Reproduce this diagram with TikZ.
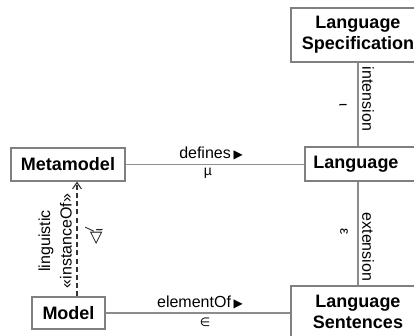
\documentclass[tikz,border=0pt]{standalone}
\usepackage{fontspec}
\setmainfont{Liberation Sans}
\newfontfamily\symfont{DejaVu Sans}
\usetikzlibrary{arrows.meta}
\definecolor{boxgray}{gray}{0.5}
\definecolor{linegray}{gray}{0.55}
\definecolor{dashgray}{gray}{0.2}
\newcommand{\rtri}{{\symfont\fontsize{6}{6}\selectfont ▶}}
\begin{document}
\begin{tikzpicture}[x=0.5pt,y=-0.5pt,
  box/.style={draw=boxgray, line width=0.55pt, fill=white, inner sep=0pt,
    font=\fontsize{9}{10.6}\selectfont\bfseries, align=center},
  boxfont/.style={font=\fontsize{9}{10.6}\selectfont\bfseries, inner sep=0pt},
  link/.style={draw=linegray, line width=0.6pt},
  inst/.style={draw=dashgray, line width=0.55pt, dash pattern=on 2.5pt off 1.6pt,
    -{Straight Barb[length=3.2pt,width=4.4pt,line width=0.55pt]}},
  lbl/.style={font=\fontsize{8}{9.6}\selectfont, inner sep=0pt},
  sym/.style={font=\fontsize{7}{8}\selectfont, inner sep=0pt}
]
\useasboundingbox (0,0) rectangle (414,336);
\clip (0,0) rectangle (414,336);

% elements
\node[box, minimum width=57pt, minimum height=16.5pt] (meta) at (68,164.5) {Metamodel};
\node[box, minimum width=36.5pt, minimum height=16pt] (model) at (68.5,313) {Model};
\node[box, minimum width=67pt, minimum height=27pt] (spec) at (358,35) {Language\\Specification};
\node[box, minimum width=57.5pt, minimum height=17pt,
  label={[boxfont, xshift=-3.25pt]center:Language}] (lang) at (362.5,164) {};
\node[box, minimum width=67pt, minimum height=26pt] (sent) at (358,312) {Language\\Sentences};

% relations
\draw[link] (meta.east) -- (meta.east -| lang.west);
\draw[link] (model.east) -- (model.east -| sent.west);
\draw[link] (spec.south) -- (spec.south |- lang.north);
\draw[link] (sent.north) -- (sent.north |- lang.south);

\coordinate (dbase) at ([xshift=4.25pt]model.north);
\coordinate (dtop) at (dbase |- meta.south);
\draw[inst] (dbase) -- (dtop);

% relation labels
\node[lbl] (ldefines) at (211,153) {defines\,\rtri};
\node[sym] (lmu) at (208,173) {µ};
\node[lbl] (lelem) at (200,302) {elementOf\,\rtri};
\node[sym] (lin) at (205,322.5) {{\symfont\fontsize{6}{6}\selectfont ∈}};
\node[lbl, rotate=-90] (lint) at (368,99) {intension};
\node[sym, rotate=-90] (liota) at (343,105) {ι};
\node[lbl, rotate=-90] (lext) at (368,247) {extension};
\node[sym, rotate=-90] (leps) at (344,232) {ε};
\node[lbl, rotate=90] (lling) at (46,241) {linguistic};
\node[lbl, rotate=90] (linst) at (66,241) {«instanceOf»};
\node[sym, rotate=90] (ltri) at (94,237)
  {{\symfont\fontsize{8}{8}\selectfont ◁}\kern0.3pt\rlap{\raisebox{3.2pt}{\fontsize{6}{6}\selectfont\itshape /}}\raisebox{-1.2pt}{\fontsize{6}{6}\selectfont ι}};
\end{tikzpicture}
\end{document}
